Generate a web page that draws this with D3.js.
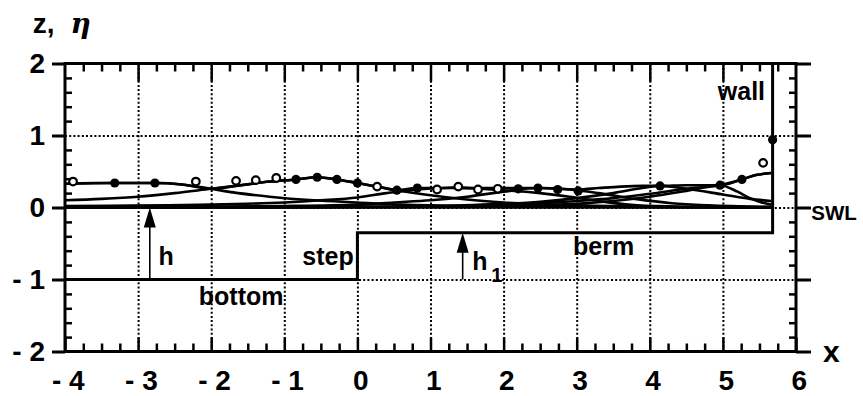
<!DOCTYPE html>
<html>
<head>
<meta charset="utf-8">
<script src="https://cdn.jsdelivr.net/npm/d3@7"></script>
<style>
  body { margin: 0; background: #fff; }
  svg text { font-family: "Liberation Sans", Arial, sans-serif; font-weight: bold; fill: #000; }
</style>
</head>
<body>
<svg id="chart" width="863" height="396"></svg>
<script>
// Wave profiles (x, eta). Each pair is one snapshot.
const p1x = [-4, -3.6, -3.32, -2.77, -2.4, -2.0, -1.7, -1.2, -0.6, 0, 0.6, 1.5, 3, 5.66];
const p1y = [0.33, 0.34, 0.34, 0.34, 0.32, 0.26, 0.21, 0.15, 0.10, 0.07, 0.04, 0.02, 0.01, 0];

const p2x = [-4, -3.5, -3, -2.5, -2, -1.66, -1.2, -0.84, -0.55, -0.28, 0, 0.27, 0.54, 1, 1.5, 2, 3, 4, 5.66];
const p2y = [0.10, 0.12, 0.15, 0.20, 0.26, 0.30, 0.36, 0.39, 0.42, 0.39, 0.34, 0.29, 0.24, 0.17, 0.11, 0.07, 0.03, 0.01, 0];

const p3x = [-4, -2, -1, -0.5, 0, 0.4, 0.82, 1.3, 2, 2.5, 2.9, 3.3, 3.83, 4.5, 5.66];
const p3y = [0.02, 0.04, 0.07, 0.10, 0.14, 0.20, 0.25, 0.27, 0.24, 0.20, 0.15, 0.09, 0.03, 0.01, 0];

const p4x = [-4, -1, 0, 0.5, 1, 1.5, 2, 2.47, 2.9, 3.3, 3.8, 4.3, 4.8, 5.66];
const p4y = [0, 0.02, 0.04, 0.07, 0.10, 0.15, 0.22, 0.27, 0.25, 0.20, 0.12, 0.06, 0.03, 0.01];

const p5x = [-4, 0, 1, 2, 2.5, 3, 3.5, 3.9, 4.14, 4.5, 5, 5.37, 5.66];
const p5y = [0, 0.01, 0.02, 0.05, 0.08, 0.13, 0.20, 0.27, 0.30, 0.26, 0.18, 0.12, 0.09];

const p6x = [-4, 1, 2, 3, 3.5, 4, 4.5, 4.96, 5.2, 5.37, 5.5, 5.66];
const p6y = [0, 0.01, 0.02, 0.05, 0.09, 0.15, 0.23, 0.31, 0.22, 0.13, 0.08, 0.04];

const p7x = [-4, 1, 2, 3, 3.5, 4, 4.5, 4.96, 5.26, 5.45, 5.66];
const p7y = [0, 0.01, 0.04, 0.09, 0.13, 0.19, 0.26, 0.31, 0.39, 0.45, 0.48];

// max elevation envelope (computed)
const envX = [-4, -3.32, -2.77, -2.4, -2.0, -1.6, -1.2, -0.84, -0.55, -0.28, 0, 0.27, 0.54, 0.82, 1.09, 1.38, 1.65, 1.92, 2.2, 2.47, 2.74, 3.02, 3.3, 3.6, 3.9, 4.14, 4.5, 4.96, 5.26, 5.45, 5.66];
const envY = [0.33, 0.34, 0.34, 0.32, 0.26, 0.31, 0.36, 0.39, 0.42, 0.39, 0.34, 0.29, 0.24, 0.27, 0.27, 0.28, 0.27, 0.27, 0.27, 0.27, 0.26, 0.25, 0.27, 0.29, 0.30, 0.30, 0.31, 0.31, 0.39, 0.45, 0.48];

// computed maxima (filled) and measured maxima (open)
const calcX = [-3.32, -2.77, -0.84, -0.55, -0.28, 0, 0.54, 0.82, 2.2, 2.47, 2.74, 3.02, 4.14, 4.96, 5.26, 5.68];
const calcY = [0.34, 0.34, 0.39, 0.42, 0.39, 0.34, 0.24, 0.27, 0.26, 0.27, 0.25, 0.23, 0.30, 0.31, 0.39, 0.94];
const measX = [-3.89, -2.21, -1.66, -1.39, -1.11, 0.27, 1.09, 1.38, 1.65, 1.92, 5.55];
const measY = [0.36, 0.36, 0.37, 0.38, 0.41, 0.29, 0.25, 0.29, 0.25, 0.26, 0.62];

// bottom geometry: bottom -> step -> berm -> wall
const bedX = [-4, 0, 0, 5.68, 5.68];
const bedZ = [-1, -1, -0.35, -0.35, 2];

const xMajor = [-4, -3, -2, -1, 0, 1, 2, 3, 4, 5, 6];
const yMajor = [-2, -1, 0, 1, 2];
const xGrid = [-3, -2, -1, 0, 1, 2, 3, 4, 5];
const yGrid = [-1, 0, 1];

const width = 863;
const height = 396;

const x = d3.scaleLinear().domain([-4, 6]).range([65, 796]);
const y = d3.scaleLinear().domain([-2, 2]).range([351.5, 63.5]);

const svg = d3.select("#chart");

const fmt = d => d < 0 ? "- " + (-d) : String(d);
const isMinor = v => Math.abs(v - Math.round(v)) > 1e-6;
const xMinor = d3.range(-4, 6.001, 0.25).filter(isMinor);
const yMinor = d3.range(-2, 2.001, 0.2).filter(isMinor);

const clean = g => {
  g.select(".domain").remove();
  g.selectAll(".tick line").attr("stroke", "#000");
};

// dotted grid
svg.append("g")
  .attr("transform", `translate(0,${y(-2)})`)
  .call(d3.axisBottom(x).tickValues(xGrid).tickSize(-(y(-2) - y(2))).tickFormat(""))
  .call(clean)
  .selectAll(".tick line").attr("stroke-width", 2).attr("stroke-dasharray", "2,2.2");
svg.append("g")
  .attr("transform", `translate(${x(-4)},0)`)
  .call(d3.axisLeft(y).tickValues(yGrid).tickSize(-(x(6) - x(-4))).tickFormat(""))
  .call(clean)
  .selectAll(".tick line").attr("stroke-width", 2).attr("stroke-dasharray", "2,2.2");

// minor ticks, inward
svg.append("g").attr("transform", `translate(0,${y(2)})`)
  .call(d3.axisTop(x).tickValues(xMinor).tickSize(-8).tickFormat("")).call(clean)
  .selectAll(".tick line").attr("stroke-width", 2.5);
svg.append("g").attr("transform", `translate(0,${y(-2)})`)
  .call(d3.axisBottom(x).tickValues(xMinor).tickSize(-8).tickFormat("")).call(clean)
  .selectAll(".tick line").attr("stroke-width", 2.5);
svg.append("g").attr("transform", `translate(${x(-4)},0)`)
  .call(d3.axisLeft(y).tickValues(yMinor).tickSize(-7).tickFormat("")).call(clean)
  .selectAll(".tick line").attr("stroke-width", 2.5);
svg.append("g").attr("transform", `translate(${x(6)},0)`)
  .call(d3.axisRight(y).tickValues(yMinor).tickSize(-7).tickFormat("")).call(clean)
  .selectAll(".tick line").attr("stroke-width", 2.5);

// major ticks
svg.append("g").attr("transform", `translate(0,${y(2)})`)
  .call(d3.axisTop(x).tickValues(xGrid).tickSize(-18).tickFormat("")).call(clean)
  .selectAll(".tick line").attr("stroke-width", 2.5);
const xAxis = svg.append("g").attr("transform", `translate(0,${y(-2)})`)
  .call(d3.axisBottom(x).tickValues(xMajor).tickSize(-14).tickPadding(19).tickFormat(fmt)).call(clean);
xAxis.selectAll(".tick line").attr("stroke-width", 2.5);
xAxis.selectAll("text").attr("font-size", 28).attr("dx", "0.1em");

const yAxis = svg.append("g").attr("transform", `translate(${x(-4)},0)`)
  .call(d3.axisLeft(y).tickValues(yMajor).tickSize(13).tickPadding(7).tickFormat(fmt)).call(clean);
yAxis.selectAll(".tick line").attr("stroke-width", 3);
yAxis.selectAll("text").attr("font-size", 28);

svg.append("g").attr("transform", `translate(${x(6)},0)`)
  .call(d3.axisRight(y).tickValues(yMajor).tickSize(15).tickFormat("")).call(clean)
  .selectAll(".tick line").attr("stroke-width", 3);

// frame
svg.append("rect")
  .attr("x", x(-4)).attr("y", y(2))
  .attr("width", x(6) - x(-4)).attr("height", y(-2) - y(2))
  .attr("fill", "none").attr("stroke", "#000").attr("stroke-width", 3);

// still water level
svg.append("line")
  .attr("x1", x(-4)).attr("x2", x(5.68))
  .attr("y1", y(0)).attr("y2", y(0))
  .attr("stroke", "#000").attr("stroke-width", 2.5);

// bed and wall
const bed = d3.range(bedX.length).map(i => [bedX[i], bedZ[i]]);
svg.append("path")
  .attr("d", d3.line().x(d => x(d[0])).y(d => y(d[1]))(bed))
  .attr("fill", "none").attr("stroke", "#000").attr("stroke-width", 3);

// wave profiles
const profiles = [[p1x, p1y], [p2x, p2y], [p3x, p3y], [p4x, p4y], [p5x, p5y], [p6x, p6y], [p7x, p7y], [envX, envY]];
const waveLine = d3.line().x(d => x(d[0])).y(d => y(d[1])).curve(d3.curveMonotoneX);
profiles.forEach(([px, py]) => {
  const pts = px.map((v, i) => [v, py[i]]);
  svg.append("path")
    .attr("d", waveLine(pts))
    .attr("fill", "none").attr("stroke", "#000").attr("stroke-width", 2.6);
});

// markers
svg.append("g").selectAll("circle")
  .data(calcX.map((v, i) => [v, calcY[i]]))
  .join("circle")
  .attr("cx", d => x(d[0])).attr("cy", d => y(d[1])).attr("r", 4.6)
  .attr("fill", "#000");
svg.append("g").selectAll("circle")
  .data(measX.map((v, i) => [v, measY[i]]))
  .join("circle")
  .attr("cx", d => x(d[0])).attr("cy", d => y(d[1])).attr("r", 3.8)
  .attr("fill", "#fff").attr("stroke", "#000").attr("stroke-width", 2.2);

// depth arrows h and h1
const arrow = (xv, from, to) => {
  const tip = y(to);
  svg.append("line")
    .attr("x1", x(xv)).attr("x2", x(xv))
    .attr("y1", y(from)).attr("y2", tip + 10)
    .attr("stroke", "#000").attr("stroke-width", 1.6);
  svg.append("path")
    .attr("d", `M${x(xv)},${tip} L${x(xv) - 6},${tip + 20} L${x(xv) + 6},${tip + 20} Z`)
    .attr("fill", "#000");
};
arrow(-2.84, -1, 0);
arrow(1.44, -1, -0.35);

// text labels
const label = (t, xv, yv, size, anchor) => svg.append("text")
  .attr("x", x(xv)).attr("y", y(yv))
  .attr("font-size", size)
  .attr("text-anchor", anchor || "start")
  .text(t);

label("wall", 4.93, 1.49, 25);
label("step", -0.05, -0.80, 25, "end");
label("bottom", -2.17, -1.35, 25);
label("berm", 2.95, -0.66, 25);
label("SWL", 6.21, -0.17, 20.5);
label("h", -2.72, -0.80, 25);
label("h", 1.57, -0.87, 25);
label("1", 1.83, -1.04, 20);
label("x", 6.37, -2.15, 30);

const zt = label("z, ", -4.44, 2.42, 28);
zt.append("tspan").attr("font-style", "italic").attr("font-family", "DejaVu Serif").attr("dx", 8).text("η");
</script>
</body>
</html>
